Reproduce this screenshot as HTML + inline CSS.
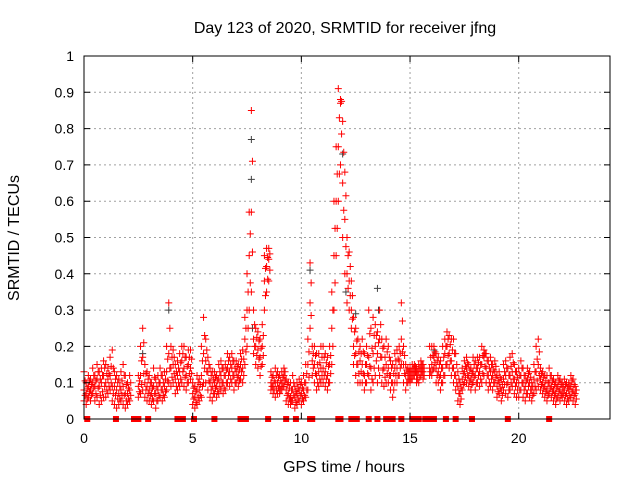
<!DOCTYPE html>
<html><head><meta charset="utf-8"><style>
html,body{margin:0;padding:0;background:#fff;}
svg{display:block;font-family:"Liberation Sans",sans-serif;}
</style></head><body>
<svg id="chart" width="640" height="480" viewBox="0 0 640 480" xmlns="http://www.w3.org/2000/svg">
<rect width="640" height="480" fill="#fff"/>
<g id="grid"></g><g id="gray"></g><g id="red"></g><g id="axes"></g>
<text x="345" y="33" font-size="16" text-anchor="middle">Day 123 of 2020, SRMTID for receiver jfng</text>
<text x="344" y="472" font-size="16" text-anchor="middle">GPS time / hours</text>
<text x="19" y="238" font-size="16" text-anchor="middle" transform="rotate(-90 19 238)">SRMTID / TECUs</text>
</svg>
<script>
const xTicks=[0,5,10,15,20];
const yTicks=[0,0.1,0.2,0.3,0.4,0.5,0.6,0.7,0.8,0.9,1];
const yTickLabels=["0","0.1","0.2","0.3","0.4","0.5","0.6","0.7","0.8","0.9","1"];
const t0=0, dt=0.1;
const lo=[.05,.04,.06,.05,.07,.05,.06,.04,.05,.06, .06,.07,.08,.05,.04,.03,.04,.05,.04,.03, .04,.05,null,null,null,.06,.07,.08,.06,.05, .05,.04,.05,.03,.05,.06,.05,.06,.08,.1, .09,.1,.07,.08,.09,.1,.09,.08,.1,.11, .04,.03,.04,.05,.06,.1,.1,.08,.06,.05, .07,.06,.07,.08,.07,.08,.1,.09,.1,.08, .1,.09,.11,.1,.15,.2,.3,.35,.18,.15, .14,.12,.15,.3,.35,.38,.08,.07,.06,.07, .07,.08,.09,.05,.04,.04,.05,.03,.04,.05, .04,.05,.06,.08,.25,.12,.1,.08,.09,.1, .1,.09,.08,.1,.15,.3,.45,.6,.7,.5, .4,.32,.3,.25,.15,.12,.1,.1,.1,.08, .1,.12,.08,.1,.12,.1,.12,.1,.09,.1, .1,.08,.06,.1,.1,.12,.15,.1,.08,.1, .1,.11,.12,.1,.1,.12,.11,null,null,.12, .12,.14,.1,.1,.08,.1,.12,.15,.14,.12, .1,.08,.05,.04,.08,.1,.1,.09,.08,.1, .08,.1,.09,.1,.12,.1,.08,.09,.08,.1, .06,.07,.05,.08,.07,.06,.08,.09,.07,.06, .06,.08,.06,.05,.07,.06,.05,.07,.08,.09, .08,.07,.06,.05,.07,.06,.05,.04,.06,.05, .06,.05,.04,.05,.06,.05,.04];
const mid=[.08,.07,.09,.08,.1,.09,.11,.09,.1,.12, .1,.11,.12,.09,.09,.08,.07,.08,.09,.07, .07,.08,null,null,null,.09,.12,.17,.1,.09, .08,.07,.09,.07,.08,.1,.08,.09,.13,.18, .14,.15,.11,.12,.13,.16,.14,.12,.15,.14, .07,.06,.08,.08,.12,.18,.16,.13,.1,.09, .1,.09,.11,.12,.1,.12,.14,.13,.14,.12, .13,.12,.15,.14,.22,.3,.45,.57,.22,.2, .19,.17,.2,.38,.42,.44,.1,.09,.1,.1, .09,.1,.12,.08,.07,.06,.08,.06,.07,.08, .07,.08,.1,.15,.32,.16,.15,.12,.13,.14, .14,.13,.12,.15,.25,.45,.6,.75,.87,.65, .55,.4,.38,.3,.2,.18,.15,.16,.15,.12, .15,.17,.14,.18,.2,.18,.22,.17,.14,.15, .14,.12,.1,.14,.14,.16,.22,.15,.12,.12, .12,.13,.14,.12,.13,.14,.13,null,null,.14, .15,.17,.14,.13,.12,.14,.18,.2,.18,.16, .14,.12,.09,.07,.11,.13,.14,.12,.11,.13, .12,.14,.13,.15,.17,.14,.12,.13,.12,.13, .09,.1,.08,.11,.12,.1,.12,.13,.11,.1, .1,.12,.1,.09,.11,.1,.08,.11,.13,.15, .11,.1,.09,.08,.1,.09,.08,.07,.09,.08, .08,.08,.07,.08,.09,.08,.07];
const hi=[.13,.1,.12,.11,.14,.12,.15,.13,.14,.16, .15,.14,.17,.19,.13,.12,.11,.13,.15,.12, .1,.12,null,null,null,.12,.2,.25,.15,.13, .12,.1,.14,.11,.12,.14,.12,.13,.2,.32, .2,.19,.15,.16,.18,.2,.2,.17,.19,.19, .1,.09,.12,.11,.2,.28,.22,.17,.14,.13, .13,.12,.15,.16,.14,.15,.18,.17,.18,.16, .16,.15,.18,.19,.28,.4,.57,.85,.3,.25, .24,.22,.26,.45,.47,.47,.13,.12,.14,.13, .12,.13,.14,.11,.1,.1,.12,.09,.1,.11, .1,.12,.15,.22,.43,.2,.2,.18,.18,.2, .2,.18,.17,.2,.35,.6,.75,.91,.88,.82, .68,.5,.46,.38,.28,.25,.22,.2,.22,.18, .2,.3,.25,.28,.26,.24,.3,.22,.2,.22, .2,.16,.15,.18,.19,.2,.32,.2,.15,.14, .14,.15,.15,.14,.15,.16,.15,null,null,.2, .2,.2,.18,.17,.16,.2,.22,.24,.23,.22, .22,.18,.13,.1,.14,.16,.17,.15,.14,.17, .16,.17,.17,.2,.19,.18,.16,.17,.15,.16, .12,.13,.11,.15,.16,.14,.17,.18,.15,.13, .14,.16,.14,.12,.14,.13,.1,.15,.2,.22, .14,.13,.12,.12,.14,.12,.11,.1,.12,.11, .1,.11,.1,.1,.12,.11,.09];
const zeroTimes=[0.15,1.47,2.3,2.4,2.5,2.95,4.3,4.55,5.06,6.0,7.2,7.3,7.45,8.47,9.3,9.75,10.4,10.5,11.7,11.8,12.3,12.55,13.1,13.5,13.9,14.05,14.2,14.6,15.1,15.25,15.4,15.7,15.85,16.0,16.1,16.65,17.1,17.85,19.5,21.4];
const grayTimes=[2.7,3.9,7.7,7.7,7.75,10.4,11.9,12.05,13.5,13.55,12.5,16.1];
const grayVals=[0.18,0.3,0.77,0.66,0.25,0.41,0.73,0.35,0.36,0.3,0.29,0.19];

const X0=84,X1=610,Y0=419,Y1=56,XMAX=24.2;
const xs=t=>X0+(t/XMAX)*(X1-X0);
const ys=v=>Y0-v*(Y0-Y1);
const NS="http://www.w3.org/2000/svg";
function mk(tag,attrs,parent){const e=document.createElementNS(NS,tag);for(const k in attrs)e.setAttribute(k,attrs[k]);parent.appendChild(e);return e;}
const grid=document.getElementById('grid'),axes=document.getElementById('axes');
yTicks.forEach((v,i)=>{
  if(v>0&&v<1){const l=mk('line',{x1:X0,x2:X1,y1:ys(v),y2:ys(v),stroke:'#a0a0a0','stroke-dasharray':'2,3'},grid);
  
  }
  const tk=mk('path',{d:`M${X0} ${ys(v)}h6M${X1} ${ys(v)}h-6`,stroke:'#000'},axes);
  
  
  const tx=mk('text',{x:X0-10,y:ys(v)+5,'font-size':14,'text-anchor':'end'},axes);tx.textContent=yTickLabels[i];
  
  
});
xTicks.forEach(t=>{
  if(t>0){const l=mk('line',{x1:xs(t),x2:xs(t),y1:Y0,y2:Y1,stroke:'#a0a0a0','stroke-dasharray':'2,3'},grid);
  
  }
  const tk=mk('path',{d:`M${xs(t)} ${Y0}v-6M${xs(t)} ${Y1}v6`,stroke:'#000'},axes);
  
  
  const tx=mk('text',{x:xs(t),y:Y0+24,'font-size':14,'text-anchor':'middle'},axes);tx.textContent=String(t);
  
  
});
const frame=mk('rect',{x:X0,y:Y1,width:X1-X0,height:Y0-Y1,fill:'none',stroke:'#000'},axes);



function plus(g,t,v,color){
  const x=xs(t),y=ys(v);
  const p=mk('path',{d:`M${x-3.5} ${y}h7M${x} ${y-3.5}v7`,stroke:color,'stroke-width':1},g);
  
  
}
const gray=document.getElementById('gray'),red=document.getElementById('red');
grayTimes.forEach((t,i)=>plus(gray,t,grayVals[i],'#404040'));
mid.forEach((m,i)=>{
  if(m===null)return;
  const t=t0+i*dt;
  plus(red,t,lo[i],'#ff0000');plus(red,t,m,'#ff0000');plus(red,t,hi[i],'#ff0000');
  plus(red,t+0.05,(lo[i]+m)/2,'#ff0000');plus(red,t+0.05,(m+hi[i])/2,'#ff0000');
});
zeroTimes.forEach(t=>{
  const r=mk('rect',{x:xs(t)-3,y:Y0-3,width:6,height:6,fill:'#ff0000'},red);
  
  
});
</script>
</body></html>
